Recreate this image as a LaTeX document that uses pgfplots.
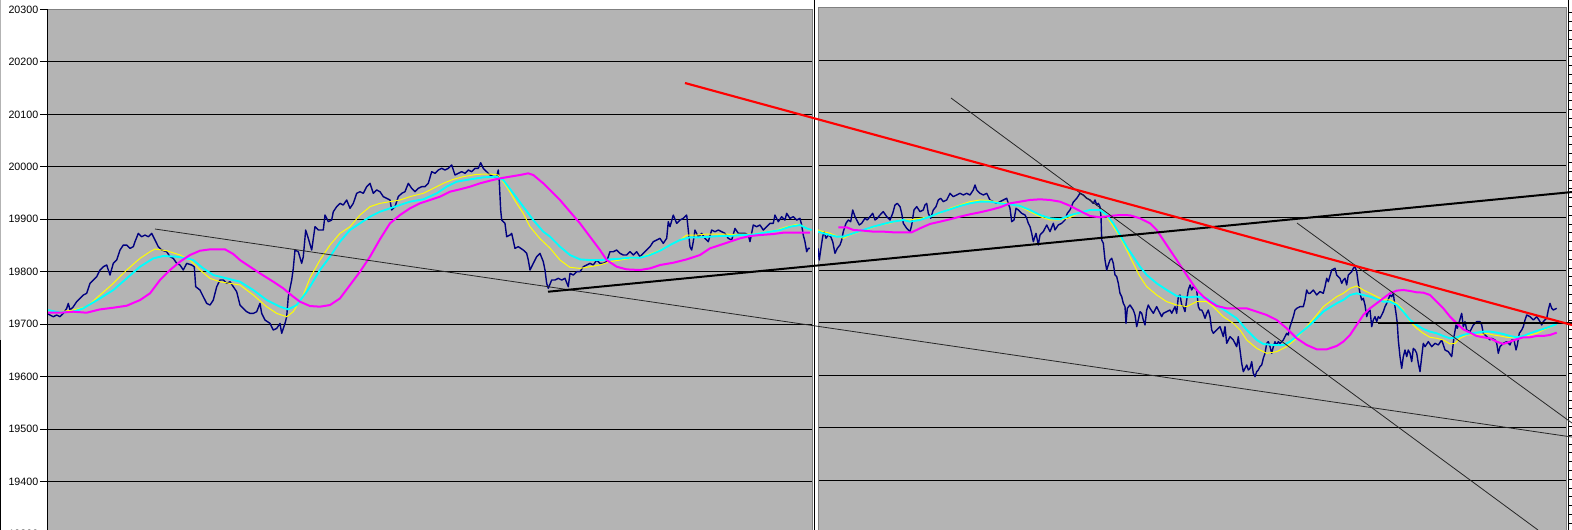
\documentclass[border=0pt]{standalone}
\usepackage{fontspec}
\setmainfont{Liberation Sans}
\usepackage{pgfplots}
\pgfplotsset{compat=1.18}
\definecolor{plotgray}{RGB}{180,180,180}
\definecolor{framegray}{RGB}{128,128,128}
\definecolor{price}{RGB}{0,0,128}
\definecolor{fastma}{RGB}{255,255,0}
\definecolor{midma}{RGB}{0,255,255}
\definecolor{slowma}{RGB}{255,0,255}

% 1 px of the screenshot = 0.75pt
\pgfplotsset{
  panel/.style={
    scale only axis, anchor=south west,
    ymin=19300, ymax=20300,
    ytick={19300,19400,...,20300},
    scaled y ticks=false,
    ymajorgrids, grid style={black, line width=0.7pt},
    axis background/.style={fill=plotgray},
    axis line style={draw=framegray, line width=0.75pt},
    xtick=\empty, clip=true,
    /pgf/number format/assume math mode=true,
    /pgf/number format/1000 sep={},
    /pgf/number format/fixed,
    yticklabel style={font=\fontsize{8pt}{9pt}\selectfont},
  },
  pricestyle/.style={price, line width=1.05pt, line join=round},
  fast/.style={fastma, line width=0.75pt},
  mid/.style={midma, line width=1.4pt},
  slow/.style={slowma, line width=1.5pt},
}

\begin{document}
\begin{tikzpicture}
\path[use as bounding box] (0pt,0pt) rectangle (1179pt,397.5pt);

% ---------- left panel ----------
\begin{axis}[panel, at={(35.25pt,-2.93pt)}, width=574.1pt, height=393.3pt,
  xmin=47, xmax=812.5,
  ytick pos=left, tick align=outside, major tick length=5.4pt,
  tick style={black, line width=0.75pt},
  yticklabel style={inner sep=1pt}]
\addplot[pricestyle] coordinates {
(47.3,19720.5)(50,19717.3)(53.3,19714.2)(56.7,19717.3)(60,19714.2)(63.3,19720.5)(66.7,19730.1)(68.3,19739.6)(70,19726.9)(73.3,19733.2)(76.7,19742.8)(80,19749.1)(83.3,19755.5)(86.7,19758.7)(90,19777.7)(93.3,19784.1)(96.7,19790.5)(100,19803.2)(103.3,19809.5)(106.7,19812.7)(110,19793.6)(113.3,19815.9)(116.7,19822.2)(120,19841.3)(123.3,19850.8)(126.7,19850.8)(130,19844.5)(133.3,19847.7)(135,19857.2)(138.3,19873.1)(141.7,19866.7)(145,19869.9)(148.3,19866.7)(151.7,19873.1)(155,19860.4)(158.3,19847.7)(161.7,19841.3)(166.7,19838.1)(170,19828.6)(173.3,19825.4)(176.7,19815.9)(180,19812.7)(183.3,19803.2)(186.7,19815.9)(191.7,19812.7)(194.3,19809.5)(195.7,19771.4)(200,19765.0)(203.3,19752.3)(206.7,19739.6)(210,19736.4)(213.3,19745.9)(216.7,19771.4)(220,19784.1)(223.3,19784.1)(226.7,19777.7)(230,19780.9)(233.3,19771.4)(236.7,19761.8)(240,19736.4)(243.3,19730.1)(246.7,19723.7)(250,19720.5)(253.3,19720.5)(256.7,19723.7)(260,19739.6)(261.7,19720.5)(265,19707.8)(270,19701.4)(273.3,19688.7)(276.7,19691.9)(280,19701.4)(281.7,19682.4)(285,19701.4)(286.7,19714.2)(288.3,19752.3)(291.7,19784.1)(293.3,19806.3)(295,19841.3)(298.3,19838.1)(301.7,19815.9)(303.3,19828.6)(305.7,19879.4)(308.3,19863.6)(311.7,19841.3)(315,19885.8)(318.3,19879.5)(323.3,19879.5)(325,19908.1)(328.3,19895.4)(331.7,19898.5)(333.3,19914.4)(336.7,19924.0)(340,19930.3)(343.3,19927.2)(346.7,19936.7)(350,19920.8)(353.3,19930.3)(356.7,19949.4)(360,19952.6)(363.3,19949.4)(366.7,19962.1)(370,19968.5)(373.3,19949.4)(376.7,19955.8)(380,19952.6)(383.3,19943.1)(386.7,19939.9)(390,19936.7)(391.7,19917.6)(395,19924.0)(398.3,19943.1)(401.7,19949.4)(405,19952.6)(408.3,19968.5)(411.7,19959.0)(415,19952.6)(418.3,19959.0)(421.7,19962.1)(425,19962.1)(428.3,19968.5)(431.7,19990.7)(435,19987.6)(438.3,19993.9)(441.7,19997.1)(445,19993.9)(448.3,19997.1)(451.7,20003.5)(455,19984.4)(458.3,19987.6)(461.7,19990.7)(465,19987.6)(468.3,19993.9)(471.7,19990.7)(475,19997.1)(478.3,19997.1)(480.7,20007.9)(483.3,19997.1)(486.7,19990.7)(490,19984.4)(493.3,19981.2)(496.7,19981.2)(498.3,19993.9)(499.3,19971.7)(500.7,19917.6)(501.7,19898.5)(505,19892.2)(506.7,19866.8)(510,19869.9)(511.7,19873.1)(515,19844.5)(518.3,19847.7)(523.3,19841.3)(526.7,19835.0)(528.3,19822.3)(530,19803.2)(533.3,19815.9)(536.7,19828.6)(540,19835.0)(543.3,19819.1)(545,19803.2)(546.7,19777.8)(548.3,19768.3)(551.7,19784.1)(555,19784.1)(558.3,19787.3)(561.7,19784.1)(565,19787.3)(568.3,19771.4)(570,19796.8)(573.3,19793.6)(576.7,19800.0)(580,19800.0)(583.3,19809.5)(586.7,19812.7)(590,19815.9)(593.3,19812.7)(596.7,19822.2)(600,19815.9)(603.3,19815.9)(606.7,19819.1)(610,19838.1)(613.3,19838.1)(616.7,19841.3)(620,19835.0)(623.3,19831.8)(626.7,19831.8)(630,19838.1)(633.3,19831.8)(636.7,19838.1)(640,19828.6)(643.3,19834.9)(646.7,19841.3)(650,19847.7)(653.3,19857.2)(656.7,19860.4)(660,19863.6)(663.3,19854.0)(666.7,19863.6)(668.3,19895.3)(670,19885.8)(673.3,19908.0)(676.7,19892.2)(680,19898.5)(683.3,19901.7)(686.7,19908.0)(688.3,19879.4)(690,19847.7)(691.7,19841.3)(693.3,19857.2)(695,19879.4)(698.3,19866.7)(701.7,19873.1)(705,19863.6)(708.3,19857.2)(711.7,19879.4)(715,19876.3)(718.3,19879.4)(721.7,19876.3)(725,19873.1)(728.3,19863.6)(731.7,19860.4)(735,19882.6)(738.3,19873.1)(741.7,19873.1)(745,19873.1)(748.3,19869.9)(750,19857.2)(753.3,19889.0)(756.7,19885.8)(760,19889.0)(763.3,19879.4)(766.7,19885.8)(770,19892.2)(773.3,19892.2)(775,19908.0)(778.3,19895.3)(781.7,19904.9)(785,19898.5)(786.7,19911.2)(790,19901.7)(793.3,19904.9)(796.7,19898.5)(800,19901.7)(801.7,19889.0)(803.3,19869.9)(805,19857.2)(806.7,19838.1)(808.3,19844.5)(810,19844.5)
};
\addplot[fast] coordinates {
(47.3,19725.6)(60,19723.7)(73.3,19726.9)(86.7,19733.2)(100,19755.5)(113.3,19777.7)(126.7,19803.2)(140,19825.4)(150,19838.1)(155,19843.2)(166.7,19840.0)(180,19831.8)(190,19822.2)(200,19803.2)(210,19787.3)(220,19780.9)(230,19777.7)(240,19774.6)(253.3,19755.5)(266.7,19733.2)(276.7,19720.5)(286.7,19714.2)(293.3,19723.7)(303.3,19755.5)(310,19788)(320,19822.3)(330,19850.9)(340,19873.1)(350,19885.8)(360,19908.1)(370,19924.0)(380,19930.3)(390,19933.5)(400,19936.7)(410,19943.1)(423.3,19949.4)(433.3,19958.9)(443.3,19968.5)(453.3,19976.1)(463.3,19981.2)(476.7,19985.6)(490,19986.3)(498.3,19984.4)(506.7,19962.1)(516.7,19930.3)(523.3,19911.3)(530,19885.8)(540,19863)(550,19845)(560,19822.2)(570,19808.2)(580,19806.3)(590,19809.5)(600,19812.7)(610,19819.1)(620,19822.2)(630,19825.4)(640,19827.3)(650,19833.7)(660,19841.3)(670,19850.8)(680,19860.4)(686.7,19869.9)(696.7,19869.9)(706.7,19871.8)(720,19871.8)(733.3,19871.2)(743.3,19871.8)(753.3,19871.8)(766.7,19876.3)(776.7,19879.4)(786.7,19885.8)(796.7,19890.3)(803.3,19887.1)(810,19879.4)
};
\addplot[mid] coordinates {
(47.3,19726.9)(60,19722.4)(73.3,19723.7)(83.3,19730.1)(100,19749.1)(113.3,19765.0)(126.7,19787.3)(140,19809.5)(153.3,19825.4)(163.3,19829.9)(176.7,19828.6)(186.7,19825.4)(193.3,19822.2)(203.3,19806.3)(213.3,19793.6)(226.7,19787.3)(240,19780.9)(253.3,19765.0)(266.7,19745.9)(280,19733.2)(288.3,19728.1)(296.7,19736.4)(306.7,19761.8)(310,19771.4)(320,19803.2)(330,19828.6)(340,19857.2)(350,19879.5)(360,19892.2)(370,19904.9)(380,19914.4)(390,19920.8)(400,19927.2)(410,19933.5)(423.3,19938.0)(436.7,19949.4)(446.7,19962.1)(456.7,19971.6)(470,19976.1)(483.3,19979.9)(496.7,19981.2)(503.3,19974.8)(513.3,19949.4)(523.3,19924.0)(533.3,19898.5)(543.3,19876.3)(550,19867)(560,19847.7)(570,19831.8)(580,19823.5)(590,19822.2)(600,19822.2)(610,19823.5)(620,19824.8)(630,19826.7)(640,19826.7)(650,19831.8)(660,19840.0)(670,19850.8)(680,19860.4)(690,19865.5)(700,19865.5)(710,19866.7)(720,19868.0)(730,19868.0)(740,19869.9)(750,19869.9)(760,19873.1)(770,19876.3)(780,19879.4)(790,19885.8)(800,19889.0)(806.7,19882.6)(811.7,19879.4)
};
\addplot[slow] coordinates {
(47.3,19721.8)(60,19721.8)(73.3,19723.7)(86.7,19721.8)(100,19728.1)(113.3,19731.3)(126.7,19735.1)(140,19745.9)(150,19758.7)(160,19784.1)(170,19803.2)(180,19819.1)(190,19831.8)(200,19840.0)(210,19842.6)(225,19842.6)(233.3,19833.7)(240,19822.2)(250,19809.5)(260,19796.8)(273.3,19780.9)(283.3,19768.2)(293.3,19752.3)(300,19742.8)(310,19734.5)(320,19733.3)(330,19736.4)(340,19749.1)(350,19774.6)(360,19800.0)(370,19828.6)(380,19862)(390,19892.2)(400,19908.1)(410,19920.8)(420,19930.3)(430,19936.7)(440,19943.1)(450,19952.6)(460,19957.1)(470,19962.1)(480,19968.5)(490,19973.5)(500,19978.0)(510,19981.2)(520,19984.4)(528.3,19987.6)(533.3,19984.4)(543.3,19968.5)(550,19955.7)(560,19936.7)(570,19914.4)(580,19892.2)(590,19866.7)(600,19841.3)(606.7,19822.2)(616.7,19809.5)(626.7,19804.4)(640,19803.2)(650,19806.3)(660,19812.7)(673.3,19817.1)(686.7,19823.5)(700,19831.8)(710,19844.5)(720,19850.8)(730,19857.2)(740,19863.6)(750,19868.0)(760,19869.9)(773.3,19871.8)(783.3,19874.4)(793.3,19874.4)(810,19874.4)
};
\draw[black, line width=0.75pt] (rel axis cs:0,0) -- (rel axis cs:0,1);
\end{axis}

% ---------- right panel ----------
\begin{axis}[panel, at={(613.5pt,-2.1pt)}, width=561.6pt, height=393.7pt,
  xmin=818, xmax=1566.8,
  yticklabels={}, major tick length=0pt]
\addplot[pricestyle] coordinates {
(818,19841.9)(819.3,19819.7)(820.7,19838.8)(822.7,19864.2)(824,19873.7)(826,19861.0)(828.3,19867.3)(830.7,19864.2)(832.7,19854.6)(835,19832.4)(837.3,19841.9)(840,19848.3)(841.7,19857.8)(843.3,19873.7)(846,19889.6)(848.3,19895.9)(850.7,19892.7)(852.7,19915.0)(855,19902.3)(856.7,19895.9)(859.3,19886.4)(861.7,19889.6)(865,19899.1)(867.3,19895.9)(870,19902.3)(872.7,19908.6)(875,19895.9)(877.3,19899.1)(880,19905.4)(883.3,19911.8)(886.7,19902.3)(890,19895.9)(892.7,19908.6)(895,19924.5)(897.3,19927.6)(900,19921.3)(901.7,19908.6)(903.3,19889.6)(906.7,19880.0)(910,19873.7)(911.7,19886.4)(914,19915.0)(916.7,19921.3)(920,19911.8)(923.3,19915.0)(925,19924.5)(926.7,19927.6)(928.3,19908.6)(930.7,19899.1)(933.3,19915.0)(936,19921.3)(938.3,19934.0)(940.7,19937.2)(943.3,19930.8)(946.7,19934.0)(950,19946.7)(953.3,19940.4)(956.7,19943.5)(960,19946.7)(963.3,19943.5)(966.7,19946.7)(970,19943.5)(973.3,19953.1)(975,19962.6)(976.7,19953.1)(980,19946.7)(983.3,19943.5)(986.7,19946.7)(990,19934.0)(993.3,19930.8)(996.7,19927.6)(1000,19930.8)(1003.3,19934.0)(1006.7,19937.2)(1008.3,19927.6)(1010,19918.1)(1011.7,19892.7)(1014,19895.9)(1016,19918.1)(1018.3,19915.0)(1021.7,19908.6)(1025,19905.4)(1026.7,19899.1)(1028.3,19889.6)(1030,19883.2)(1031.7,19870.5)(1033.3,19854.6)(1036,19870.5)(1038.3,19848.3)(1040,19867.3)(1043.3,19873.7)(1046.7,19886.4)(1050,19873.7)(1053.3,19889.6)(1055,19876.9)(1058.3,19886.4)(1061.7,19889.6)(1065,19895.9)(1067.3,19908.6)(1070,19915)(1073.3,19930)(1076.7,19937)(1080,19946.7)(1083.3,19943.5)(1086.7,19937.2)(1090,19934.0)(1093.3,19927.6)(1095,19934.0)(1096.7,19924.5)(1098.3,19927.6)(1100,19921.3)(1101,19902.2)(1101.7,19857.8)(1103.3,19851.5)(1105,19819.7)(1106.7,19800.65)(1108.3,19810.2)(1110,19819.7)(1111.7,19822.9)(1113.3,19813.4)(1115,19791.1)(1116.7,19787.95)(1118.3,19775.25)(1120,19756.2)(1121.7,19749.85)(1123.3,19737.15)(1125,19730.8)(1126,19699.05)(1127.3,19727.6)(1130,19733.95)(1133.3,19724.45)(1135,19714.9)(1136.7,19692.7)(1138.3,19705.4)(1140,19721.25)(1141.7,19718.1)(1143.3,19705.4)(1145,19695.9)(1146.7,19724.45)(1148.3,19733.95)(1150,19727.6)(1153.3,19718.1)(1156.7,19730.8)(1158.3,19724.45)(1160,19718.1)(1161.7,19711.75)(1163.3,19718.1)(1166.7,19721.25)(1170,19724.45)(1171.7,19718.1)(1175,19730.8)(1176.7,19718.1)(1178.3,19749.85)(1180,19753.0)(1181.7,19733.95)(1183.3,19730.8)(1185,19721.25)(1186.7,19743.5)(1188.3,19762.55)(1190,19772.1)(1191.7,19762.55)(1193.3,19768.9)(1195,19765.7)(1196.7,19762.55)(1198.3,19730.8)(1200,19724.45)(1201.7,19724.45)(1203.3,19718.1)(1205,19708.6)(1206.7,19718.1)(1208.3,19724.45)(1210,19711.75)(1211.7,19686.35)(1213.3,19680.0)(1216.7,19686.35)(1220,19692.7)(1221.7,19683.2)(1223.3,19673.65)(1225,19692.7)(1226.7,19660.95)(1230,19673.65)(1233.3,19667.3)(1236.7,19654.6)(1238.3,19673.65)(1240,19648.25)(1241.7,19622.85)(1243.3,19607.0)(1245,19613.35)(1246.7,19619.7)(1248.3,19610.15)(1250,19613.35)(1251.7,19626.0)(1253.3,19603.8)(1255,19597.45)(1256.7,19607.0)(1258.3,19610.15)(1260,19616.5)(1261.7,19619.7)(1263.3,19632.4)(1265,19641.9)(1266.7,19660.95)(1268.3,19664.1)(1270,19654.6)(1271.7,19641.9)(1273.3,19654.6)(1275,19664.1)(1276.7,19657.75)(1278.3,19664.1)(1280,19660.95)(1283.3,19667.3)(1286.7,19680.0)(1288.3,19676.85)(1290,19692.7)(1291.7,19702.25)(1293.3,19711.75)(1295,19724.45)(1296.7,19727.6)(1300,19730.8)(1303.3,19730.8)(1305,19743.5)(1306.7,19762.55)(1308.3,19756.2)(1310,19756.2)(1313.3,19762.55)(1316.7,19753.0)(1320,19759.4)(1323.3,19756.2)(1325,19768.9)(1326.7,19784.8)(1328.3,19778.4)(1331.7,19800.65)(1335,19803.8)(1336.7,19791.1)(1340,19784.8)(1341.7,19775.25)(1343.3,19781.6)(1345,19784.8)(1346.7,19772.1)(1348.3,19791.1)(1351.7,19797.5)(1353.3,19803.8)(1355,19807.0)(1356.7,19797.5)(1358.3,19775.25)(1360,19756.2)(1361.7,19743.5)(1363.3,19746.7)(1365,19734.0)(1366.7,19711.75)(1368.3,19721.3)(1370,19724.45)(1371.7,19692.7)(1373.3,19705.4)(1375,19711.75)(1376.7,19702.25)(1378.3,19711.75)(1380,19708.6)(1381.7,19714.9)(1383.3,19721.3)(1385,19730.8)(1386.7,19737.15)(1390,19753.0)(1391.7,19749.85)(1393.3,19756.2)(1395,19730.8)(1396,19718.1)(1397.3,19699.05)(1398.3,19667.3)(1400,19635.55)(1401.7,19613.35)(1403.3,19635.55)(1405,19648.25)(1406.7,19635.55)(1408.3,19648.25)(1410,19641.9)(1411.7,19626.0)(1413.3,19651.4)(1415,19648.25)(1416.7,19641.9)(1418.3,19622.85)(1420,19607.0)(1421.7,19635.55)(1423.3,19660.95)(1425,19654.6)(1428.3,19664.1)(1431.7,19654.6)(1435,19660.95)(1438.3,19657.8)(1441.7,19667.3)(1445,19648.25)(1448.3,19645.1)(1451.7,19635.55)(1452.7,19651.4)(1454,19673.65)(1456,19695.9)(1457.3,19689.55)(1459.3,19702.25)(1461.7,19718.1)(1463.3,19692.7)(1465,19702.25)(1466.7,19686.35)(1470,19683.2)(1473.3,19695.9)(1476.7,19702.25)(1480,19702.25)(1481.7,19695.9)(1483.3,19680.0)(1486.7,19673.65)(1490,19667.3)(1491.7,19670.5)(1495,19667.3)(1496.7,19660.95)(1498.3,19641.9)(1500,19654.6)(1503.3,19660.95)(1506.7,19664.1)(1510,19657.8)(1511.7,19667.3)(1514,19667.3)(1516,19648.25)(1517.3,19657.8)(1519.3,19680.0)(1521.7,19686.35)(1523.3,19692.7)(1525,19705.4)(1526.7,19714.9)(1530,19711.75)(1533.3,19705.4)(1536.7,19711.75)(1540,19702.25)(1541.7,19695.9)(1543.3,19702.25)(1546.7,19708.6)(1548.3,19724.45)(1550,19737.15)(1551.7,19727.6)(1553.3,19724.45)(1556.7,19727.6)
};
\addplot[fast] coordinates {
(818,19876.9)(823.3,19873.7)(830,19870.5)(836.7,19865.4)(843.3,19861.0)(850,19867.3)(860,19873.7)(870,19880.0)(880,19886.4)(890,19889.6)(900,19895.9)(910,19895.9)(920,19899.1)(930,19902.3)(940,19908.6)(950,19918.1)(960,19924.5)(970,19930.8)(980,19934.0)(990,19932.7)(1000,19928.9)(1010,19927.6)(1020,19921.3)(1030,19911.8)(1040,19902.3)(1050,19895.9)(1060,19895.9)(1070,19900.7)(1080,19910)(1090,19914.95)(1100,19914.95)(1106.7,19902.25)(1113.3,19883.2)(1120,19864.15)(1126.7,19838.75)(1133.3,19813.35)(1140,19787.95)(1146.7,19768.9)(1156.7,19753.0)(1166.7,19740.3)(1176.7,19734.0)(1186.7,19730.8)(1196.7,19740.3)(1206.7,19740.3)(1213.3,19730.8)(1223.3,19711.75)(1233.3,19699.05)(1240,19686.35)(1246.7,19667.3)(1256.7,19651.4)(1266.7,19641.9)(1276.7,19645.1)(1286.7,19654.6)(1296.7,19670.5)(1306.7,19692.7)(1316.7,19715)(1323.3,19730.8)(1330,19740.3)(1336.7,19749.85)(1343.3,19756.2)(1350,19765.7)(1356.7,19770.2)(1363.3,19762.55)(1370,19756.2)(1376.7,19749.85)(1383.3,19743.5)(1390,19743.5)(1396.7,19737.15)(1403.3,19724.45)(1410,19702.25)(1416.7,19689.5)(1423.3,19680.0)(1430,19672.4)(1436.7,19670.5)(1443.3,19667.3)(1450,19659.7)(1455,19660.95)(1460,19670.5)(1466.7,19676.85)(1473.3,19676.85)(1480,19676.85)(1486.7,19680.0)(1493.3,19676.85)(1500,19674.9)(1506.7,19672.4)(1513.3,19672.4)(1523.3,19673.65)(1530,19676.85)(1536.7,19680.0)(1543.3,19686.35)(1550,19691.4)(1556.7,19697.8)
};
\addplot[mid] coordinates {
(818,19873.7)(823.3,19870.5)(830,19867.3)(836.7,19864.2)(843.3,19864.2)(853.3,19870.5)(863.3,19876.9)(873.3,19883.2)(883.3,19888.3)(893.3,19892.7)(903.3,19895.9)(910,19892.7)(920,19895.9)(930,19902.3)(940,19909.9)(950,19916.2)(960,19922.6)(970,19927.6)(980,19930.8)(990,19930.8)(1000,19927.6)(1010,19925.7)(1020,19922.6)(1030,19914.95)(1040,19905.4)(1050,19899.1)(1060,19897.2)(1070,19905)(1080,19910)(1090,19914.95)(1100,19914.95)(1106.7,19905.4)(1113.3,19889.6)(1120,19867.3)(1126.7,19845.1)(1133.3,19826.05)(1140,19807.0)(1146.7,19791.1)(1156.7,19775.25)(1166.7,19762.55)(1176.7,19751.1)(1186.7,19748.6)(1196.7,19749.85)(1206.7,19746.7)(1216.7,19734.0)(1226.7,19721.3)(1236.7,19708.6)(1246.7,19686.35)(1256.7,19667.3)(1263.3,19659.7)(1273.3,19657.8)(1283.3,19657.8)(1290,19664.1)(1300,19680.0)(1310,19696)(1316.7,19708.6)(1323.3,19721.3)(1330,19729.5)(1336.7,19737.15)(1343.3,19743.5)(1350,19753.0)(1356.7,19756.2)(1363.3,19753.0)(1370,19749.85)(1376.7,19744.8)(1383.3,19740.3)(1390,19740.3)(1396.7,19734.0)(1403.3,19721.3)(1410,19705.4)(1416.7,19695.9)(1423.3,19688.3)(1430,19683.2)(1436.7,19680.0)(1443.3,19674.9)(1450,19670.5)(1456.7,19672.4)(1463.3,19676.85)(1470,19680.0)(1476.7,19681.3)(1483.3,19683.2)(1490,19683.2)(1496.7,19681.3)(1503.3,19678.7)(1510,19674.9)(1516.7,19672.4)(1523.3,19674.9)(1530,19680.0)(1536.7,19684.5)(1543.3,19688.3)(1550,19692.7)(1556.7,19697.8)
};
\addplot[slow] coordinates {
(838.3,19881.9)(846.7,19881.9)(853.3,19876.9)(863.3,19875.6)(873.3,19873.7)(883.3,19873.7)(893.3,19872.4)(903.3,19872.4)(911.7,19872.4)(920,19880.0)(930,19888.3)(940,19892.7)(950,19897.2)(960,19902.3)(970,19906.7)(980,19910.5)(990,19915.0)(1000,19920.0)(1010,19927.6)(1020,19930.8)(1030,19934.0)(1040,19935.3)(1050,19934.0)(1060,19930.8)(1070,19923)(1080,19913)(1090,19903.5)(1100,19901.0)(1110,19903.5)(1120,19905.4)(1130,19904.8)(1140,19899.1)(1150,19889.6)(1156.7,19876.85)(1163.3,19857.8)(1170,19838.75)(1176.7,19819.7)(1183.3,19800.65)(1190,19781.6)(1196.7,19762.55)(1203.3,19749.85)(1210,19740.3)(1216.7,19732.1)(1226.7,19727.6)(1236.7,19727.6)(1246.7,19727.6)(1256.7,19721.25)(1266.7,19714.9)(1276.7,19705.4)(1286.7,19689.5)(1296.7,19670.5)(1306.7,19657.8)(1316.7,19649.5)(1326.7,19649.5)(1336.7,19655.9)(1343.3,19664.1)(1350,19676.85)(1356.7,19695.9)(1363.3,19714.9)(1370,19727.6)(1376.7,19737.15)(1383.3,19746.7)(1390,19756.2)(1396.7,19761.3)(1403.3,19762.55)(1410,19760.65)(1416.7,19758.1)(1423.3,19757.5)(1430,19753.0)(1436.7,19740.3)(1443.3,19727.6)(1450,19711.75)(1456.7,19699.05)(1463.3,19687.6)(1470,19681.3)(1476.7,19674.9)(1483.3,19672.4)(1490,19670.5)(1496.7,19664.1)(1503.3,19659.7)(1510,19664.1)(1516.7,19668.6)(1523.3,19672.4)(1530,19672.4)(1536.7,19674.9)(1543.3,19674.9)(1550,19676.85)(1556.7,19681.3)
};
\end{axis}

% ---------- edge of the next chart ----------
\begin{axis}[at={(1169.1pt,0pt)}, anchor=south west, scale only axis,
  width=7.5pt, height=397.5pt, xmin=0, xmax=1, ymin=0, ymax=530, y dir=reverse,
  axis x line=none, axis y line=right, y axis line style={-, black, line width=0.75pt},
  ytick={12.8,21.6,...,528}, yticklabels={}, tick align=outside,
  major tick length=2.4pt, tick style={black, line width=0.6pt}]
\end{axis}

% ---------- divider and hand-drawn trend lines (x in screen px, y in price) ----------
\begin{axis}[at={(0pt,-2.93pt)}, anchor=south west, scale only axis,
  width=1179pt, height=393.3pt, xmin=0, xmax=1572, ymin=19300, ymax=20300,
  hide axis, clip=false]
\addplot[black, line width=0.75pt] coordinates {(814.4,19280)(814.4,20330)};
\addplot[framegray!60, line width=0.75pt] coordinates {(0.5,20330)(0.5,19670)};
\addplot[black, line width=0.75pt] coordinates {(0.5,19670)(0.5,19280)};
\addplot[black!85, line width=0.6pt] coordinates {(155,19881.4)(1572,19484.7)};
\addplot[black!85, line width=0.6pt] coordinates {(951,20131.2)(1538,19307.4)};
\addplot[black!85, line width=0.6pt] coordinates {(1297,19892.8)(1572,19511.4)};
\addplot[black, line width=1.5pt] coordinates {(548,19761.8)(1572,19951.9)};
\addplot[black, line width=1.4pt] coordinates {(1378,19702.7)(1572,19702.7)};
\addplot[red, line width=1.6pt] coordinates {(685,20159.8)(1572,19698.3)};
\end{axis}
\end{tikzpicture}
\end{document}
